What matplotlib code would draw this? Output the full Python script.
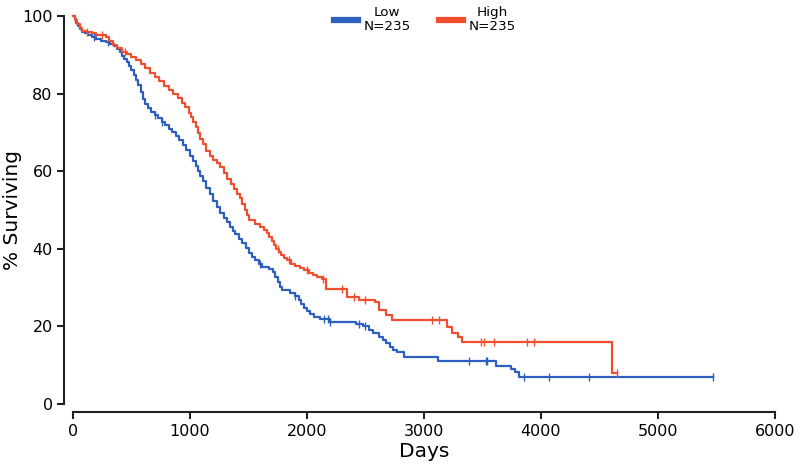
#!/usr/bin/env python3
import numpy as np
import matplotlib
matplotlib.use("Agg")
import matplotlib.pyplot as plt

# Kaplan-Meier steps (days, % surviving)
low_days = [0, 15, 30, 45, 60, 80, 100, 130, 160, 200, 240, 280, 320, 350,
            380, 400, 420, 440, 460, 480, 500, 520, 540, 560, 580, 600, 620,
            640, 670, 700, 730, 760, 790, 820, 850, 880, 910, 940, 970, 1000,
            1025, 1050, 1070, 1090, 1110, 1140, 1170, 1200, 1230, 1260, 1290,
            1315, 1340, 1365, 1390, 1420, 1450, 1480, 1510, 1535, 1560, 1590,
            1620, 1680, 1710, 1730, 1750, 1770, 1790, 1860, 1900, 1930, 1950,
            1975, 2000, 2030, 2060, 2110, 2200, 2420, 2480, 2530, 2570, 2620,
            2650, 2680, 2710, 2740, 2770, 2830, 3125, 3617, 3745, 3780, 3813,
            5476]
low_surv = [100, 99.1, 98.3, 97.4, 96.6, 96.0, 95.5, 95.0, 94.5, 94.0, 93.6,
            93.2, 92.8, 92.3, 91.5, 90.6, 89.8, 88.9, 88.1, 87.2, 86.0, 84.7,
            83.4, 82.1, 80.4, 78.7, 77.4, 76.2, 75.3, 74.5, 73.6, 72.8, 71.9,
            71.0, 70.0, 69.0, 68.0, 66.8, 65.5, 64.0, 62.6, 61.3, 60.0, 58.7,
            57.4, 55.7, 54.0, 52.3, 50.8, 49.3, 48.0, 46.8, 45.5, 44.7, 43.8,
            42.6, 41.5, 40.2, 39.0, 37.9, 37.0, 36.0, 35.3, 34.8, 34.0, 32.8,
            31.5, 30.2, 29.4, 28.6, 27.8, 26.8, 25.8, 24.8, 24.0, 23.2, 22.5,
            22.0, 21.1, 20.6, 20.0, 19.0, 18.2, 17.3, 16.5, 15.8, 14.8, 14.0,
            13.4, 12.1, 11.1, 9.8, 9.1, 8.3, 7.0, 7.0]
low_censor = [180, 300, 700, 760, 1600, 1900, 2150, 2180, 2200, 2450, 2500,
              3386, 3531, 3540, 3856, 4070, 4410, 5476]

high_days = [0, 20, 40, 60, 80, 120, 160, 200, 240, 280, 310, 340, 380, 420,
             460, 500, 540, 580, 620, 660, 700, 740, 780, 820, 860, 900, 930,
             960, 990, 1010, 1030, 1050, 1070, 1090, 1110, 1140, 1170, 1200,
             1230, 1260, 1290, 1320, 1350, 1380, 1405, 1430, 1450, 1470, 1490,
             1510, 1560, 1600, 1630, 1660, 1680, 1700, 1720, 1740, 1760, 1780,
             1805, 1830, 1865, 1900, 1940, 1980, 2015, 2050, 2090, 2130, 2166,
             2346, 2450, 2580, 2620, 2680, 2730, 3200, 3240, 3290, 3330, 4610,
             4650]
high_surv = [100, 99.0, 98.0, 97.0, 96.2, 95.8, 95.5, 95.2, 95.0, 94.5, 93.5,
             92.5, 91.7, 90.8, 90.2, 89.5, 88.6, 87.7, 86.6, 85.3, 84.3, 83.3,
             82.0, 80.8, 80.0, 78.8, 77.6, 76.5, 75.0, 74.0, 72.7, 71.5, 69.8,
             68.2, 67.0, 65.2, 64.0, 63.0, 62.0, 61.0, 59.5, 58.0, 56.8, 55.5,
             54.2, 53.0, 51.5, 50.0, 48.7, 47.5, 46.5, 45.5, 44.8, 44.0, 43.0,
             42.0, 41.0, 40.0, 39.2, 38.5, 37.7, 37.0, 36.2, 35.5, 35.0, 34.5,
             33.8, 33.2, 32.7, 32.2, 29.6, 27.6, 26.8, 26.3, 24.2, 23.0, 21.6,
             19.8, 18.3, 17.3, 16.0, 8.0, 8.0]
high_censor = [120, 250, 450, 1750, 1850, 2000, 2140, 2300, 2400, 2500,
               3071, 3131, 3489, 3514, 3600, 3881, 3941, 4650]

low_color = "#2d5fbf"
high_color = "#f04e2e"


def step_value(days, surv, t):
    i = np.searchsorted(days, t, side="right") - 1
    return np.array(surv)[i]


fig = plt.figure(figsize=(8, 4.68), dpi=100)
ax = fig.add_axes([0.091, 0.1368, 0.8775, 0.829])

for days, surv, cens, col in [
    (low_days, low_surv, low_censor, low_color),
    (high_days, high_surv, high_censor, high_color),
]:
    ax.plot(days, surv, drawstyle="steps-post", color=col, lw=1.6,
            clip_on=False)
    ax.plot(cens, step_value(days, surv, cens), ls="none", marker="|",
            ms=6, mew=1.0, color=col, clip_on=False)

ax.set_xlim(0, 6000)
ax.set_ylim(0, 100)
ax.set_xticks(range(0, 6001, 1000))
ax.set_yticks(range(0, 101, 20))
ax.set_xlabel("Days", fontsize=14.5, labelpad=2)
ax.set_ylabel("% Surviving", fontsize=14.5)
ax.yaxis.set_label_coords(-0.0726, 0.5)
ax.tick_params(labelsize=11.5, width=1.5, length=5, color="#222222")

for s in ["top", "right"]:
    ax.spines[s].set_visible(False)
for s in ["left", "bottom"]:
    ax.spines[s].set_position(("outward", 6))
    ax.spines[s].set_linewidth(1.5)
    ax.spines[s].set_color("#222222")
ax.spines["left"].set_bounds(0, 100)
ax.spines["bottom"].set_bounds(0, 6000)

handles = [plt.Line2D([], [], color=low_color, lw=4.5),
           plt.Line2D([], [], color=high_color, lw=4.5)]
leg = fig.legend(handles, ["Low\nN=235", "High\nN=235"], loc="upper center",
                 bbox_to_anchor=(0.531, 1.013), ncol=2, frameon=False,
                 fontsize=9.7, handlelength=1.8, columnspacing=2.1,
                 handletextpad=0.4, labelspacing=0.1)
for t in leg.get_texts():
    t.set_multialignment("center")
    t.set_linespacing(1.05)

fig.savefig("out.png", dpi=100)
